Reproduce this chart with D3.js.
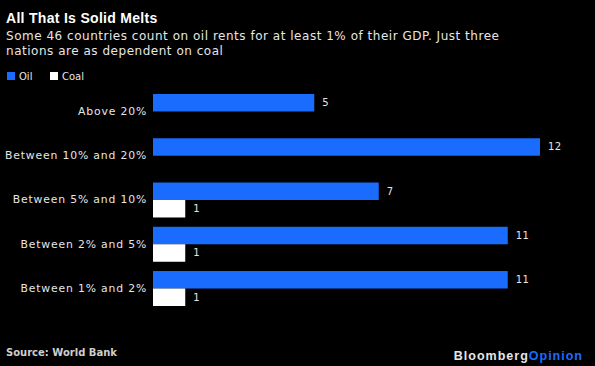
<!DOCTYPE html>
<html>
<head>
<meta charset="utf-8">
<script src="https://cdn.jsdelivr.net/npm/d3@7"></script>
<style>
  body { margin: 0; background: #000; }
  svg { display: block; font-family: "DejaVu Sans", sans-serif; }
</style>
</head>
<body>
<div id="chart"></div>
<script>
// data
const categories = ["Above 20%", "Between 10% and 20%", "Between 5% and 10%", "Between 2% and 5%", "Between 1% and 2%"];
const oilValues = [5, 12, 7, 11, 11];
const coalValues = [null, null, 1, 1, 1];
const seriesNames = ["Oil", "Coal"];
const seriesColors = ["#1a6cff", "#ffffff"];

const width = 595, height = 366;
const svg = d3.select("#chart").append("svg")
    .attr("width", width)
    .attr("height", height);

svg.append("rect").attr("width", width).attr("height", height).attr("fill", "#000");

// title + subtitle
svg.append("text")
    .attr("x", 6).attr("y", 23)
    .attr("fill", "#fff")
    .attr("font-family", "Liberation Sans, Arial, sans-serif")
    .attr("font-size", 14).attr("font-weight", "bold")
    .attr("letter-spacing", 0.3)
    .text("All That Is Solid Melts");

const subtitle = ["Some 46 countries count on oil rents for at least 1% of their GDP. Just three",
    "nations are as dependent on coal"];
svg.append("g").selectAll("text")
    .data(subtitle)
    .join("text")
    .attr("x", 6).attr("y", (d, i) => 40 + i * 15)
    .attr("fill", "#e6e6e6")
    .attr("font-size", 12)
    .attr("letter-spacing", 0.52)
    .text(d => d);

// legend
const legend = svg.append("g").attr("transform", "translate(7,72)");
const legendX = [0, 43];
seriesNames.forEach((name, i) => {
    let g = legend.append("g").attr("transform", `translate(${legendX[i]},0)`);
    g.append("rect").attr("width", 8).attr("height", 8).attr("fill", seriesColors[i]);
    g.append("text").attr("x", 12).attr("y", 8)
        .attr("fill", "#e6e6e6").attr("font-size", 10)
        .text(name);
});

// scales
const x = d3.scaleLinear().domain([0, 12]).range([153, 540]);
const y0 = d3.scaleBand().domain(categories).range([94, 306]).paddingInner(0.21).paddingOuter(0);
const y1 = d3.scaleBand().domain(seriesNames).range([0, y0.bandwidth()]);

const rows = categories.map((c, i) => ({cat: c, vals: [oilValues[i], coalValues[i]]}));

const groups = svg.append("g").selectAll("g")
    .data(rows)
    .join("g")
    .attr("transform", d => `translate(0,${y0(d.cat)})`);

groups.selectAll("rect")
    .data(d => d.vals.map((v, i) => ({name: seriesNames[i], v: v, i: i})).filter(d => d.v != null))
    .join("rect")
    .attr("x", x(0))
    .attr("y", d => y1(d.name))
    .attr("width", d => x(d.v) - x(0))
    .attr("height", y1.bandwidth())
    .attr("fill", d => seriesColors[d.i]);

groups.selectAll("text.val")
    .data(d => d.vals.map((v, i) => ({name: seriesNames[i], v: v})).filter(d => d.v != null))
    .join("text")
    .attr("class", "val")
    .attr("x", d => x(d.v) + 8)
    .attr("y", d => y1(d.name) + y1.bandwidth() / 2)
    .attr("dy", "0.35em")
    .attr("fill", "#e6e6e6")
    .attr("font-size", 10)
    .attr("letter-spacing", 0.5)
    .text(d => d.v);

// category axis, no line or ticks
const yAxis = svg.append("g")
    .attr("transform", `translate(${x(0)},0)`)
    .call(d3.axisLeft(y0).tickSize(0).tickPadding(6));
yAxis.select(".domain").remove();
yAxis.selectAll("text")
    .attr("fill", "#e6e6e6")
    .attr("font-size", 10.8)
    .attr("letter-spacing", 0.85)
    .attr("font-family", "DejaVu Sans, sans-serif");

// footer
svg.append("text")
    .attr("x", 6).attr("y", 356)
    .attr("fill", "#cfcfcf")
    .attr("font-size", 10).attr("font-weight", "bold")
    .text("Source: World Bank");

const logo = svg.append("text")
    .attr("x", 583).attr("y", 360)
    .attr("text-anchor", "end")
    .attr("font-family", "Liberation Sans, Arial, sans-serif")
    .attr("font-size", 12.5).attr("font-weight", "bold")
    .attr("letter-spacing", 1);
logo.append("tspan").attr("fill", "#e6e6e6").text("Bloomberg");
logo.append("tspan").attr("fill", "#1a6cff").text("Opinion");
</script>
</body>
</html>
